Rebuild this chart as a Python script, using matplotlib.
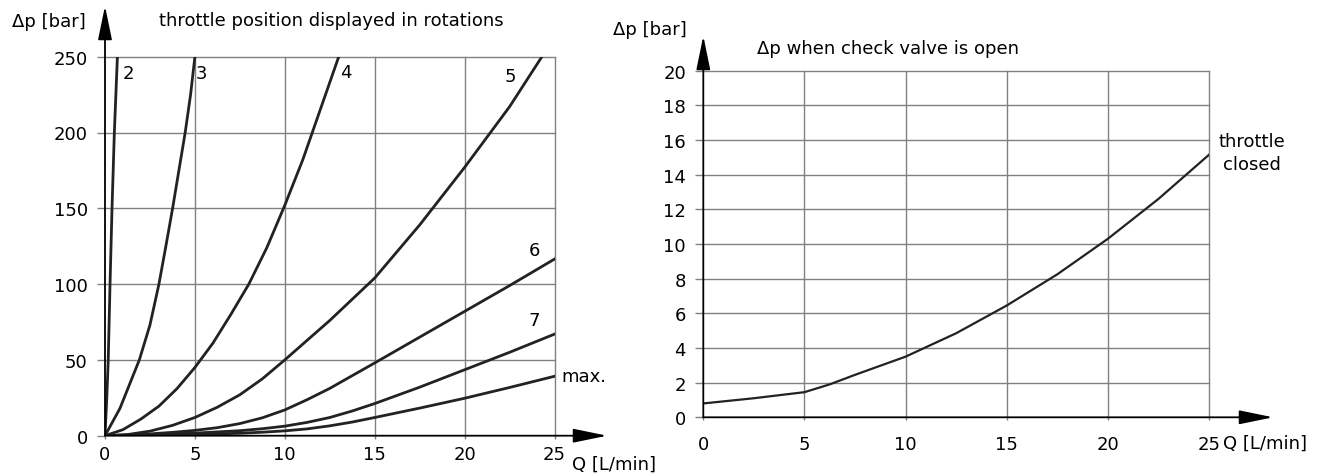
import matplotlib
matplotlib.use("Agg")
import matplotlib.pyplot as plt
from matplotlib.patches import ArrowStyle

plt.rcParams['font.family'] = ['DejaVu Sans']
plt.rcParams['font.size'] = 13

W, H = 1322, 477

# left chart: throttle positions (rotations), Q [L/min] vs dp [bar]
q_2 = [0, 0.1, 0.18, 0.28, 0.39, 0.52, 0.69]
p_2 = [0, 25, 50, 100, 150, 200, 250]
q_3 = [0, 0.83, 1.91, 2.5, 3.0, 3.4, 3.76, 4.46, 4.76, 5.0]
p_3 = [0, 18, 50, 73, 100, 126, 150, 200, 225, 250]
q_4 = [0, 1, 2, 3, 4, 5, 6, 7, 8, 9, 10, 11, 12, 13]
p_4 = [0, 4, 11, 19.5, 31, 45, 61, 80, 100, 124, 152, 182, 216, 250]
q_5 = [0, 1.25, 2.5, 3.75, 5, 6.25, 7.5, 8.75, 10, 12.5, 15, 17.5, 20, 22.5, 24.3]
p_5 = [0, 0.75, 3.0, 6.8, 12, 18.8, 27, 37.5, 50, 76, 104, 139, 177, 217, 250]
q_6 = [0, 1.25, 2.5, 3.75, 5, 6.25, 7.5, 8.75, 10, 11.25, 12.5, 15, 17.5, 20, 22.5, 25]
p_6 = [0, 0.45, 1.2, 2.2, 3.5, 5.3, 8, 11.8, 17, 23.8, 31.2, 48, 65, 82, 99, 116.5]
q_7 = [0, 2.5, 5, 7.5, 8.75, 10, 11.25, 12.5, 13.75, 15, 17.5, 20, 22.5, 25]
p_7 = [0, 0.7, 1.7, 3.3, 4.6, 6.3, 8.8, 12, 16.3, 21.2, 32, 43.5, 55, 67]
q_max = [0, 5, 6.25, 7.5, 8.75, 10, 11.25, 12.5, 13.75, 15, 17.5, 20, 22.5, 25]
p_max = [0, 0.9, 1.2, 1.6, 2.3, 3.2, 4.5, 6.5, 9.0, 12.0, 18.2, 24.7, 31.8, 39.2]

left_curves = [(q_2, p_2), (q_3, p_3), (q_4, p_4), (q_5, p_5),
               (q_6, p_6), (q_7, p_7), (q_max, p_max)]
curve_names = ["2", "3", "4", "5", "6", "7", "max."]
name_q = [1.28, 5.39, 13.39, 22.53, 23.9, 23.9, 25.4]
name_p = [239, 239, 240, 237.5, 122.5, 76.3, 39.4]

left_xticks = [0, 5, 10, 15, 20, 25]
left_yticks = [0, 50, 100, 150, 200, 250]

# right chart: dp when check valve is open
q_open = [0, 2.5, 5.0, 6.25, 7.5, 10.0, 12.5, 15.0, 17.5, 20.0, 22.5, 25.0]
p_open = [0.8, 1.1, 1.45, 1.9, 2.45, 3.5, 4.85, 6.45, 8.25, 10.3, 12.6, 15.15]
right_xticks = [0, 5, 10, 15, 20, 25]
right_yticks = [0, 2, 4, 6, 8, 10, 12, 14, 16, 18, 20]

grid_col = '#808080'
line_col = '#222222'


def px_axes(x0, y_top, x1, y_bottom):
    return [x0 / W, 1 - y_bottom / H, (x1 - x0) / W, (y_bottom - y_top) / H]


def setup(ax, xticks, yticks, xpad):
    ax.set_xlim(xticks[0], xticks[-1])
    ax.set_ylim(yticks[0], yticks[-1])
    for s in ax.spines.values():
        s.set_visible(False)
    ax.set_xticks(xticks)
    ax.set_yticks(yticks)
    ax.tick_params(axis='y', length=5.5, width=1, color=grid_col, pad=7)
    ax.tick_params(axis='x', length=2, width=1, color=grid_col, pad=xpad)
    # grid, including the frame lines at the upper limits
    for t in xticks[1:]:
        ax.axvline(t, color=grid_col, lw=1.0, clip_on=False, zorder=1)
    for t in yticks[1:]:
        ax.axhline(t, color=grid_col, lw=1.0, clip_on=False, zorder=1)


def arrow(ax, tip):
    head = ArrowStyle('-|>', head_length=1.6, head_width=0.33)
    ax.annotate('', xy=tip, xytext=(0, 0), xycoords='axes fraction',
                textcoords='axes fraction', annotation_clip=False,
                arrowprops=dict(arrowstyle=head, color='black', lw=1.3,
                                shrinkA=0, shrinkB=0), zorder=5)


fig = plt.figure(figsize=(W / 100, H / 100), dpi=100)

# left
ax1 = fig.add_axes(px_axes(105, 57.7, 554.5, 436.7))
setup(ax1, left_xticks, left_yticks, 5)
for (q, p) in left_curves:
    ax1.plot(q, p, color=line_col, lw=2.0, solid_joinstyle='round', zorder=3)
for name, qx, py in zip(curve_names, name_q, name_p):
    ax1.text(qx, py, name, ha='center' if name != "max." else 'left',
             va='center', clip_on=False)
arrow(ax1, (0, (436.7 - 7) / (436.7 - 57.7)))
arrow(ax1, ((607 - 105) / (554.5 - 105), 0))

fig.text(12 / W, 1 - 22 / H, "Δp [bar]", ha='left', va='center')
fig.text(159 / W, 1 - 21 / H, "throttle position displayed in rotations",
         ha='left', va='center')
fig.text(572 / W, 1 - 465 / H, "Q [L/min]", ha='left', va='center')

# right
ax2 = fig.add_axes(px_axes(703.3, 71.7, 1209, 418.3))
setup(ax2, right_xticks, right_yticks, 11)
ax2.plot(q_open, p_open, color=line_col, lw=1.6, solid_joinstyle='round', zorder=3)
ax2.text(27.1, 15.3, "throttle\nclosed", ha='center', va='center',
         multialignment='center', clip_on=False, linespacing=1.35)
arrow(ax2, (0, (418.3 - 37) / (418.3 - 71.7)))
arrow(ax2, ((1273 - 703.3) / (1209 - 703.3), 0))

fig.text(613 / W, 1 - 30 / H, "Δp [bar]", ha='left', va='center')
fig.text(757 / W, 1 - 49 / H, "Δp when check valve is open",
         ha='left', va='center')
fig.text(1223 / W, 1 - 444 / H, "Q [L/min]", ha='left', va='center')

fig.savefig("out.png", dpi=100)
